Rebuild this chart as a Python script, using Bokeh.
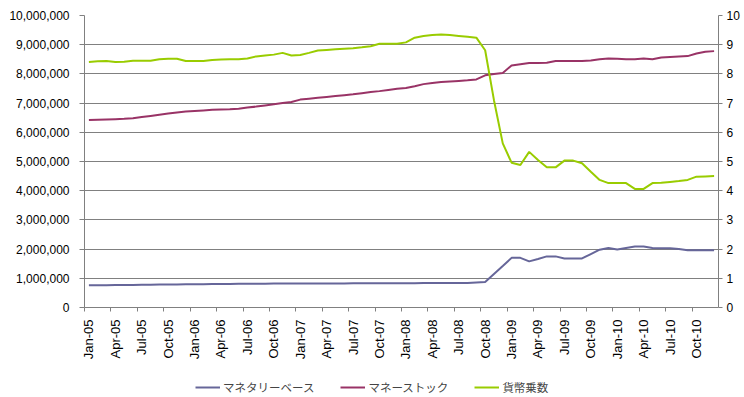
import math
from bokeh.plotting import figure
from bokeh.layouts import column
from bokeh.models import (Range1d, LinearAxis, FixedTicker, NumeralTickFormatter,
                          Legend, LegendItem)
from bokeh.embed import file_html
from bokeh.resources import INLINE

tick_labels = ["Jan-05", "Apr-05", "Jul-05", "Oct-05", "Jan-06", "Apr-06", "Jul-06", "Oct-06",
               "Jan-07", "Apr-07", "Jul-07", "Oct-07", "Jan-08", "Apr-08", "Jul-08", "Oct-08",
               "Jan-09", "Apr-09", "Jul-09", "Oct-09", "Jan-10", "Apr-10", "Jul-10", "Oct-10"]

series_names = ["マネタリーベース", "マネーストック", "貨幣乗数"]

monetary_base = [
    762000, 764000, 766000, 768000, 770000, 773000, 777000, 781000, 785000, 788000, 791000, 794000,
    797000, 800000, 803000, 806000, 809000, 812000, 814000, 816000, 817000, 818000, 819000, 820000,
    821000, 822000, 823000, 824000, 825000, 826000, 827000, 828000, 829000, 830000, 831000, 832000,
    833000, 834000, 835000, 836000, 837000, 838000, 839000, 840000, 860000, 875000, 1150000, 1420000,
    1700000, 1700000, 1580000, 1660000, 1750000, 1750000, 1680000, 1680000, 1680000, 1830000, 1980000, 2040000,
    1990000, 2040000, 2090000, 2090000, 2040000, 2030000, 2030000, 2000000, 1960000, 1960000, 1960000, 1960000]

money_stock = [
    6420000, 6430000, 6440000, 6450000, 6460000, 6480000, 6520000, 6560000, 6600000, 6640000, 6680000, 6710000,
    6730000, 6750000, 6770000, 6780000, 6790000, 6810000, 6850000, 6880000, 6920000, 6960000, 7000000, 7040000,
    7120000, 7150000, 7180000, 7210000, 7240000, 7270000, 7300000, 7340000, 7380000, 7410000, 7450000, 7490000,
    7520000, 7580000, 7650000, 7690000, 7720000, 7740000, 7760000, 7780000, 7810000, 7950000, 8000000, 8030000,
    8290000, 8330000, 8370000, 8370000, 8380000, 8440000, 8440000, 8440000, 8440000, 8460000, 8500000, 8530000,
    8520000, 8500000, 8500000, 8530000, 8500000, 8560000, 8580000, 8600000, 8610000, 8700000, 8760000, 8780000]

money_multiplier = [
    8.41, 8.43, 8.44, 8.41, 8.42, 8.45, 8.45, 8.45, 8.50, 8.52, 8.52, 8.44,
    8.44, 8.44, 8.48, 8.49, 8.50, 8.50, 8.53, 8.60, 8.63, 8.66, 8.72, 8.63,
    8.65, 8.72, 8.80, 8.82, 8.84, 8.86, 8.88, 8.91, 8.95, 9.03, 9.03, 9.03,
    9.08, 9.24, 9.30, 9.33, 9.35, 9.33, 9.30, 9.27, 9.24, 8.81, 7.10, 5.62,
    4.96, 4.88, 5.33, 5.05, 4.80, 4.80, 5.03, 5.03, 4.94, 4.65, 4.37, 4.26,
    4.26, 4.26, 4.06, 4.06, 4.26, 4.27, 4.30, 4.33, 4.37, 4.48, 4.49, 4.50]

left_max = 10_000_000
left_step = 1_000_000
right_max = 10

n = len(monetary_base)
xs = [i + 0.5 for i in range(n)]
month_ticks = list(range(0, n, 3))
label_ticks = [t + 0.5 for t in month_ticks]
series = [monetary_base, money_stock, money_multiplier]

GRID = "#808080"
NUM_FONT = "Liberation Sans"
JP_FONT = "Noto Sans CJK JP"
COLORS = ["#666699", "#993366", "#99CC00"]

p = figure(width=744, height=362, output_backend="svg", toolbar_location=None,
           x_range=Range1d(0, n), y_range=Range1d(0, left_max),
           min_border_left=84, min_border_right=26, min_border_top=15, min_border_bottom=54)
p.outline_line_color = None
p.background_fill_color = "white"

# bottom axis: tick marks only
xa = p.xaxis[0]
xa.ticker = FixedTicker(ticks=month_ticks)
xa.major_label_overrides = {t: "" for t in month_ticks}
xa.major_label_text_font_size = "0px"
xa.major_label_standoff = 0
xa.axis_line_color = GRID
xa.major_tick_line_color = GRID
xa.major_tick_out = 4
xa.major_tick_in = 0
xa.minor_tick_line_color = None

# bottom axis: month labels
xl = LinearAxis(ticker=FixedTicker(ticks=label_ticks))
xl.major_label_overrides = {t: lbl for t, lbl in zip(label_ticks, tick_labels)}
xl.major_label_orientation = math.pi / 2
xl.major_label_text_font = NUM_FONT
xl.major_label_text_font_size = "13px"
xl.major_label_text_color = "black"
xl.major_label_standoff = 8
xl.axis_line_color = None
xl.major_tick_line_color = None
xl.major_tick_out = 0
xl.major_tick_in = 0
xl.minor_tick_line_color = None
p.add_layout(xl, "below")

# left axis
ya = p.yaxis[0]
ya.ticker = FixedTicker(ticks=list(range(0, left_max + 1, left_step)))
ya.formatter = NumeralTickFormatter(format="0,0")
ya.major_label_text_font = NUM_FONT
ya.major_label_text_font_size = "12px"
ya.major_label_text_color = "black"
ya.major_label_standoff = 10
ya.axis_line_color = GRID
ya.major_tick_line_color = GRID
ya.major_tick_out = 5
ya.major_tick_in = 0
ya.minor_tick_line_color = None

# right axis
p.extra_y_ranges = {"mult": Range1d(0, right_max)}
ra = LinearAxis(y_range_name="mult", ticker=FixedTicker(ticks=list(range(0, right_max + 1))))
ra.major_label_text_font = NUM_FONT
ra.major_label_text_font_size = "12px"
ra.major_label_text_color = "black"
ra.major_label_standoff = 4
ra.axis_line_color = GRID
ra.major_tick_line_color = GRID
ra.major_tick_out = 4
ra.major_tick_in = 0
ra.minor_tick_line_color = None
p.add_layout(ra, "right")

p.xgrid.visible = False
p.ygrid.ticker = FixedTicker(ticks=list(range(0, left_max + 1, left_step)))
p.ygrid.grid_line_color = GRID
p.ygrid.grid_line_width = 1

p.line(xs, monetary_base, line_color=COLORS[0], line_width=2)
p.line(xs, money_stock, line_color=COLORS[1], line_width=2)
p.line(xs, money_multiplier, line_color=COLORS[2], line_width=2, y_range_name="mult")

# legend strip (its own proxies of the series lie outside its visible ranges)
lg = figure(width=744, height=35, output_backend="svg", toolbar_location=None,
            x_range=Range1d(-2, -1), y_range=Range1d(-2, -1), min_border=0)
lg.axis.visible = False
lg.grid.visible = False
lg.outline_line_color = None
items = []
for name, col, vals in zip(series_names, COLORS, series):
    r = lg.line(xs, vals, line_color=col, line_width=2)
    items.append(LegendItem(label=name, renderers=[r]))
legend = Legend(items=items, orientation="horizontal", location=(111, 2),
                label_text_font=JP_FONT, label_text_font_size="11.5px",
                glyph_width=25, glyph_height=12, label_height=14, spacing=26, label_standoff=3,
                border_line_color=None, background_fill_alpha=0,
                padding=0, margin=0)
lg.add_layout(legend, "center")

layout = column(p, lg, spacing=0)
open("out.html", "w").write(file_html(layout, INLINE))
